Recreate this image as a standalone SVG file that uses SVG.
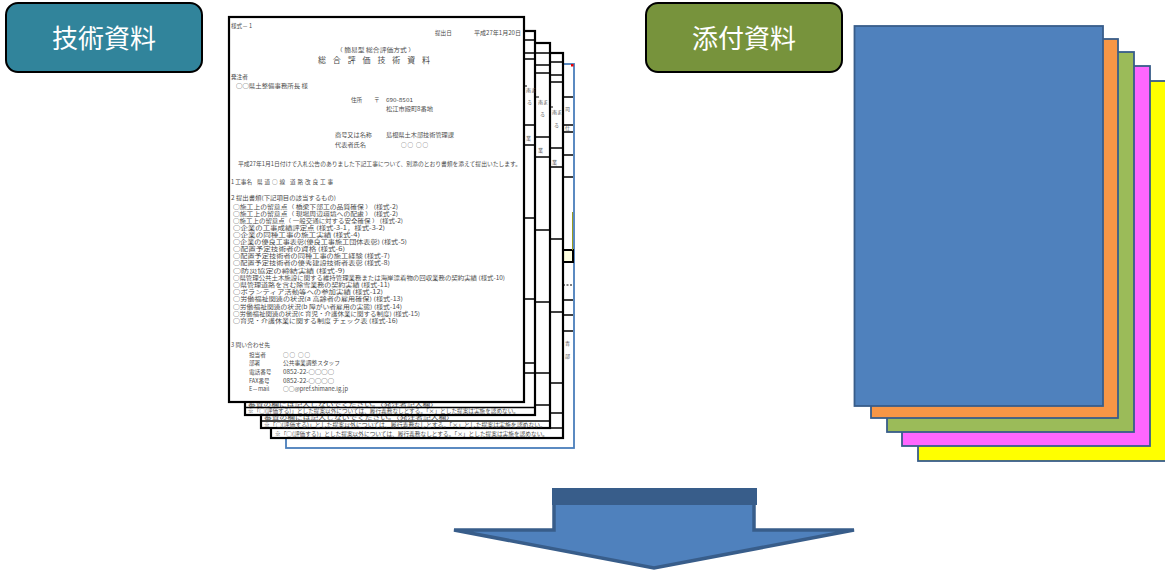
<svg xmlns="http://www.w3.org/2000/svg" width="1165" height="573" viewBox="0 0 1165 573">
<style>
.lbl{font-family:'Noto Sans CJK JP','Noto Sans',sans-serif;font-size:26px;fill:#fff;text-anchor:middle}
.d{font-family:'Noto Sans CJK JP','Noto Sans',sans-serif;font-size:5.6px;fill:#4a4a4a}
.s{font-size:4.6px}
.fr{font-family:'Noto Sans CJK JP','Noto Sans',sans-serif;font-size:5px;fill:#555}
.pg{fill:#fff;stroke:#000;stroke-width:2.2}
.tl{stroke:#000;stroke-width:1.3;fill:none}
.cp{stroke:#385d8a;stroke-width:1.8}
</style>
<rect width="1165" height="573" fill="#fff"/>

<g id="label-tech">
<rect x="6" y="3" width="196" height="69" rx="12" fill="#31849b" stroke="#000" stroke-width="2"/>
<text class="lbl" x="104" y="48">技術資料</text>
</g>
<g id="label-attach">
<rect x="646" y="3" width="196" height="69" rx="12" fill="#77933c" stroke="#000" stroke-width="2"/>
<text class="lbl" x="744" y="48">添付資料</text>
</g>

<g id="tech-docs">
<g id="page5">
<rect x="286" y="64" width="288" height="384" fill="#fff" stroke="#4a7ebb" stroke-width="1.8"/>
<path class="tl" d="M560 97H573M560 125H573M560 132H573M560 155H573M560 177H573M560 300H573M560 315H573M560 331H573"/>
<path d="M563 285H573" stroke="#000" stroke-width="1" stroke-dasharray="2,1.5"/>
<rect x="563" y="250" width="10" height="12" fill="#ffffe0" stroke="#000" stroke-width="2"/>
<path d="M572.5 212V250" stroke="#9a9a20" stroke-width="1"/>
<rect x="571" y="64" width="2.5" height="2.5" fill="#e00"/>
<text class="fr" x="565" y="111">司</text>
<text class="fr" x="565" y="130">仕</text>
<text class="fr" x="565" y="345">青</text>
<text class="fr" x="565" y="358">部</text>
</g>
<g id="page4">
<rect class="pg" x="271" y="53" width="292" height="385"/>
<path class="tl" d="M540 62H563M540 75H563M540 82H563M540 148H563M540 167H563M540 239H563M540 312H563M540 383H563M540 413H563M271 428H563"/>
<path d="M550 107h3" stroke="#000" stroke-width="1"/>
<text class="fr" x="552" y="114">南ま</text>
<text class="fr" x="554" y="127">る</text>
<text class="fr" x="552" y="164">業</text>
<text class="d" x="275" y="435.5" textLength="273" lengthAdjust="spacingAndGlyphs">※「○(評価する)」とした提案以外については、履行義務なしとする。「×」とした提案は実施を認めない。</text>
</g>
<g id="page3">
<rect class="pg" x="261" y="43" width="289" height="385"/>
<path class="tl" d="M530 53H550M530 65H550M530 73H550M530 137H550M530 157H550M530 230H550M530 302H550M530 373H550M530 405H550M261 421H550"/>
<path d="M536 97h3" stroke="#000" stroke-width="1"/>
<text class="fr" x="538" y="104">南ま</text>
<text class="fr" x="540" y="116">る</text>
<text class="fr" x="538" y="152">業</text>
<text class="d s" x="264" y="419.4" textLength="190" lengthAdjust="spacingAndGlyphs">審査の欄には記入しないでください。（発注者記入欄）</text>
<text class="d" x="264" y="426.5" textLength="282" lengthAdjust="spacingAndGlyphs">※「○(評価する)」とした提案以外については、履行義務なしとする。「×」とした提案は実施を認めない。</text>
</g>
<g id="page2">
<rect class="pg" x="245" y="31" width="290" height="384"/>
<path class="tl" d="M515 40H535M515 53H535M515 59H535M515 125H535M515 145H535M515 218H535M515 299H535M515 363H535M515 373H535M245 407.5H535"/>
<path d="M524 86h3" stroke="#000" stroke-width="1"/>
<text class="fr" x="526" y="92">南ま</text>
<text class="fr" x="527" y="104">る</text>
<text class="fr" x="526" y="140">業</text>
<text class="d s" x="248" y="405.5" textLength="190" lengthAdjust="spacingAndGlyphs">審査の欄には記入しないでください。（発注者記入欄）</text>
<text class="d" x="248" y="413" textLength="271" lengthAdjust="spacingAndGlyphs">※「○(評価する)」とした提案以外については、履行義務なしとする。「×」とした提案は実施を認めない。</text>
</g>
<g id="page1">
<rect class="pg" x="229" y="17" width="295" height="385"/>
<text class="d" x="231" y="28">様式－ 1</text>
<text class="d" x="435" y="35">提出日</text>
<text class="d" x="474" y="35" textLength="47" lengthAdjust="spacingAndGlyphs">平成27年1月20日</text>
<text class="d" x="336" y="52" textLength="79" lengthAdjust="spacingAndGlyphs">（ 簡易型 総合評価方式 ）</text>
<text class="d" x="318" y="63" style="font-size:8px" textLength="112" lengthAdjust="spacing">総 合 評 価 技 術 資 料</text>
<text class="d" x="231" y="79">発注者</text>
<text class="d" x="236" y="88" textLength="72" lengthAdjust="spacingAndGlyphs">○○県土整備事務所長 様</text>
<text class="d" x="351" y="102">住所</text>
<text class="d" x="374" y="102">〒</text>
<text class="d" x="386" y="102" textLength="27" lengthAdjust="spacingAndGlyphs">690-8501</text>
<text class="d" x="386" y="111" textLength="47" lengthAdjust="spacingAndGlyphs">松江市殿町8番地</text>
<text class="d" x="335" y="137" textLength="37" lengthAdjust="spacingAndGlyphs">商号又は名称</text>
<text class="d" x="386" y="137" textLength="68" lengthAdjust="spacingAndGlyphs">島根県土木部技術管理課</text>
<text class="d" x="335" y="147" textLength="31" lengthAdjust="spacingAndGlyphs">代表者氏名</text>
<text class="d" x="401" y="147" textLength="27" lengthAdjust="spacing">○○ ○○</text>
<text class="d" x="238" y="166" textLength="283" lengthAdjust="spacingAndGlyphs">平成27年1月1日付けで入札公告のありました下記工事について、別添のとおり書類を添えて提出いたします。</text>
<text class="d" x="231" y="184" textLength="21" lengthAdjust="spacing">1 工事名</text>
<text class="d" x="257" y="184" textLength="76" lengthAdjust="spacing">県道○線  道路改良工事</text>
<text class="d" x="231" y="200" textLength="105" lengthAdjust="spacingAndGlyphs">2 提出書類(下記項目の該当するもの)</text>
<text class="d" x="233" y="209" textLength="165" lengthAdjust="spacingAndGlyphs">○施工上の留意点（ 橋梁下部工の品質確保 ） (様式-2)</text>
<text class="d" x="233" y="216" textLength="165" lengthAdjust="spacingAndGlyphs">○施工上の留意点（ 現場周辺環境への配慮 ） (様式-2)</text>
<text class="d" x="233" y="223" textLength="170" lengthAdjust="spacingAndGlyphs">○施工上の留意点（ 一般交通に対する安全確保 ） (様式-2)</text>
<text class="d" x="233" y="230" textLength="152" lengthAdjust="spacingAndGlyphs">○企業の工事成績評定点 (様式-3-1，様式-3-2)</text>
<text class="d" x="233" y="237" textLength="127" lengthAdjust="spacingAndGlyphs">○企業の同種工事の施工実績 (様式-4)</text>
<text class="d" x="233" y="244" textLength="174" lengthAdjust="spacingAndGlyphs">○企業の優良工事表彰(優良工事施工団体表彰) (様式-5)</text>
<text class="d" x="233" y="251" textLength="112" lengthAdjust="spacingAndGlyphs">○配置予定技術者の資格 (様式-6)</text>
<text class="d" x="233" y="258" textLength="157" lengthAdjust="spacingAndGlyphs">○配置予定技術者の同種工事の施工経験 (様式-7)</text>
<text class="d" x="233" y="265" textLength="157" lengthAdjust="spacingAndGlyphs">○配置予定技術者の優秀建設技術者表彰 (様式-8)</text>
<text class="d" x="233" y="273" textLength="112" lengthAdjust="spacingAndGlyphs">○防災協定の締結実績 (様式-9)</text>
<text class="d" x="233" y="280" textLength="272" lengthAdjust="spacingAndGlyphs">○県管理公共土木施設に関する維持管理業務または海岸漂着物の回収業務の契約実績 (様式-10)</text>
<text class="d" x="233" y="287" textLength="157" lengthAdjust="spacingAndGlyphs">○県管理道路を含む除雪業務の契約実績 (様式-11)</text>
<text class="d" x="233" y="294" textLength="150" lengthAdjust="spacingAndGlyphs">○ボランティア活動等への参加実績 (様式-12)</text>
<text class="d" x="233" y="301" textLength="170" lengthAdjust="spacingAndGlyphs">○労働福祉関連の状況(a 高齢者の雇用確保) (様式-13)</text>
<text class="d" x="233" y="309" textLength="169" lengthAdjust="spacingAndGlyphs">○労働福祉関連の状況(b 障がい者雇用の実態) (様式-14)</text>
<text class="d" x="233" y="316" textLength="187" lengthAdjust="spacingAndGlyphs">○労働福祉関連の状況(c 育児・介護休業に関する制度) (様式-15)</text>
<text class="d" x="233" y="323" textLength="165" lengthAdjust="spacingAndGlyphs">○育児・介護休業に関する制度 チェック表 (様式-16)</text>
<text class="d" x="231" y="347" textLength="39" lengthAdjust="spacingAndGlyphs">3 問い合わせ先</text>
<text class="d" x="249" y="357">担当者</text>
<text class="d" x="283" y="357" textLength="27" lengthAdjust="spacing">○○ ○○</text>
<text class="d" x="249" y="365">部署</text>
<text class="d" x="283" y="365" textLength="57" lengthAdjust="spacingAndGlyphs">公共事業調整スタッフ</text>
<text class="d" x="249" y="374">電話番号</text>
<text class="d" x="283" y="374" textLength="51" lengthAdjust="spacingAndGlyphs">0852-22-○○○○</text>
<text class="d" x="249" y="383">FAX番号</text>
<text class="d" x="283" y="383" textLength="51" lengthAdjust="spacingAndGlyphs">0852-22-○○○○</text>
<text class="d" x="249" y="391">E－mail</text>
<text class="d" x="283" y="391" textLength="65" lengthAdjust="spacingAndGlyphs">○○@pref.shimane.lg.jp</text>
</g>
</g>

<g id="attach-docs">
<rect class="cp" x="918" y="81" width="260" height="380" fill="#ffff00"/>
<rect class="cp" x="902" y="66" width="248" height="380" fill="#ff66ff"/>
<rect class="cp" x="887" y="52" width="247" height="380" fill="#9bbb59"/>
<rect class="cp" x="871" y="39" width="247" height="379" fill="#f79646"/>
<rect class="cp" x="854.5" y="26" width="248.5" height="380" fill="#4f81bd"/>
</g>

<g id="connectors">
<polygon points="554,500 754,500 754,530 854,530 654,568 454,530 554,530" fill="#4f81bd" stroke="#385d8a" stroke-width="3.5" stroke-linejoin="miter"/>
<rect x="552" y="488" width="205" height="17" fill="#385d8a"/>
</g>
</svg>
